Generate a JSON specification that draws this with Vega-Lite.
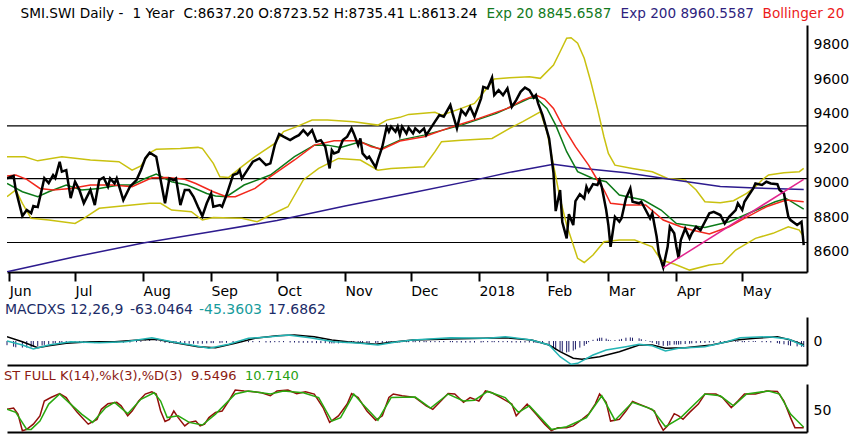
{
  "$schema": "https://vega.github.io/schema/vega-lite/v6.json",
  "background": "white",
  "padding": {"left": 6, "top": 7, "right": 2, "bottom": 8},
  "spacing": 4,
  "config": {
    "font": "DejaVu Sans",
    "view": {"stroke": null},
    "axis": {"grid": false, "domainColor": "#000", "domainWidth": 2, "labelColor": "#000", "labelFontSize": 14, "labelFont": "DejaVu Sans", "title": null},
    "legend": {"labelFont": "DejaVu Sans", "labelFontSize": 14, "labelLimit": 0, "padding": 0, "symbolSize": 0.01, "symbolType": "square", "symbolStrokeWidth": 0, "symbolOpacity": 0, "labelOffset": -16, "columnPadding": 5, "gridAlign": "none", "title": null}
  },
  "resolve": {"scale": {"color": "independent", "x": "independent", "y": "independent"}, "legend": {"color": "independent"}},
  "datasets": {
    "levels": [{"v": 9328}, {"v": 9023}, {"v": 8797}, {"v": 8653}],
    "trend": [{"d": "2018-03-26", "v": 8508}, {"d": "2018-05-29", "v": 9019}],
    "px": [
      {"d":"2017-05-31","v":9024,"h":-70},{"d":"2017-06-03","v":9038,"h":-95},{"d":"2017-06-04","v":8957,"h":-105},{"d":"2017-06-07","v":8806,"h":-110},
      {"d":"2017-06-09","v":8841,"h":-110},{"d":"2017-06-11","v":8823,"h":-105},{"d":"2017-06-12","v":8864,"h":-100},{"d":"2017-06-14","v":8858,"h":-90},
      {"d":"2017-06-16","v":8968,"h":-75},{"d":"2017-06-17","v":9026,"h":-65},{"d":"2017-06-19","v":8997,"h":-55},{"d":"2017-06-21","v":9044,"h":-45},
      {"d":"2017-06-22","v":9026,"h":-40},{"d":"2017-06-24","v":9121,"h":-35},{"d":"2017-06-25","v":9063,"h":-30},{"d":"2017-06-27","v":9072,"h":-30},
      {"d":"2017-06-29","v":8910,"h":-30},{"d":"2017-07-01","v":9005,"h":-30},{"d":"2017-07-03","v":8957,"h":-30},{"d":"2017-07-05","v":8881,"h":-35},
      {"d":"2017-07-08","v":8957,"h":-30},{"d":"2017-07-10","v":8870,"h":-35},{"d":"2017-07-12","v":9015,"h":-30},{"d":"2017-07-14","v":9030,"h":-25},
      {"d":"2017-07-16","v":8976,"h":-25},{"d":"2017-07-17","v":9024,"h":-25},{"d":"2017-07-19","v":8995,"h":-25},{"d":"2017-07-20","v":9024,"h":-25},
      {"d":"2017-07-23","v":8899,"h":-30},{"d":"2017-07-26","v":8976,"h":-25},{"d":"2017-07-29","v":9015,"h":-20},{"d":"2017-07-31","v":9072,"h":-15},
      {"d":"2017-08-02","v":9140,"h":10},{"d":"2017-08-04","v":9173,"h":20},{"d":"2017-08-07","v":9150,"h":15},{"d":"2017-08-09","v":9015,"h":-10},
      {"d":"2017-08-11","v":8880,"h":-30},{"d":"2017-08-13","v":9024,"h":-35},{"d":"2017-08-15","v":9015,"h":-40},{"d":"2017-08-16","v":9024,"h":-40},
      {"d":"2017-08-18","v":8870,"h":-45},{"d":"2017-08-20","v":8957,"h":-45},{"d":"2017-08-22","v":8957,"h":-45},{"d":"2017-08-24","v":8918,"h":-45},
      {"d":"2017-08-26","v":8860,"h":-45},{"d":"2017-08-28","v":8806,"h":-45},{"d":"2017-08-30","v":8880,"h":-40},{"d":"2017-09-01","v":8937,"h":-35},
      {"d":"2017-09-02","v":8860,"h":-35},{"d":"2017-09-05","v":8870,"h":-35},{"d":"2017-09-06","v":8860,"h":-30},{"d":"2017-09-08","v":8928,"h":-30},
      {"d":"2017-09-11","v":9044,"h":-25},{"d":"2017-09-13","v":9053,"h":-25},{"d":"2017-09-14","v":9072,"h":-20},{"d":"2017-09-15","v":9024,"h":-20},
      {"d":"2017-09-18","v":9082,"h":-20},{"d":"2017-09-20","v":9121,"h":-20},{"d":"2017-09-23","v":9140,"h":-20},{"d":"2017-09-26","v":9101,"h":-25},
      {"d":"2017-09-28","v":9111,"h":-25},{"d":"2017-09-30","v":9217,"h":-20},{"d":"2017-10-02","v":9281,"h":-20},{"d":"2017-10-04","v":9266,"h":-20},
      {"d":"2017-10-07","v":9246,"h":-25},{"d":"2017-10-09","v":9262,"h":-25},{"d":"2017-10-11","v":9275,"h":-30},{"d":"2017-10-13","v":9304,"h":-30},
      {"d":"2017-10-15","v":9275,"h":-30},{"d":"2017-10-17","v":9304,"h":-30},{"d":"2017-10-19","v":9237,"h":-35},{"d":"2017-10-21","v":9246,"h":-35},
      {"d":"2017-10-23","v":9208,"h":-35},{"d":"2017-10-25","v":9082,"h":-40},{"d":"2017-10-26","v":9188,"h":-40},{"d":"2017-10-27","v":9169,"h":-40},
      {"d":"2017-10-29","v":9179,"h":-40},{"d":"2017-10-31","v":9246,"h":-35},{"d":"2017-11-02","v":9266,"h":-35},{"d":"2017-11-04","v":9314,"h":-30},
      {"d":"2017-11-05","v":9285,"h":-30},{"d":"2017-11-07","v":9217,"h":-30},{"d":"2017-11-08","v":9256,"h":-30},{"d":"2017-11-09","v":9169,"h":-35},
      {"d":"2017-11-11","v":9140,"h":-35},{"d":"2017-11-12","v":9150,"h":-35},{"d":"2017-11-15","v":9088,"h":-35},{"d":"2017-11-16","v":9131,"h":-30},
      {"d":"2017-11-18","v":9208,"h":-30},{"d":"2017-11-20","v":9324,"h":-25},{"d":"2017-11-21","v":9295,"h":-25},{"d":"2017-11-22","v":9324,"h":-25},
      {"d":"2017-11-24","v":9295,"h":-25},{"d":"2017-11-25","v":9324,"h":-25},{"d":"2017-11-26","v":9275,"h":-25},{"d":"2017-11-27","v":9324,"h":-20},
      {"d":"2017-11-29","v":9285,"h":-20},{"d":"2017-11-30","v":9318,"h":-20},{"d":"2017-12-02","v":9285,"h":-20},{"d":"2017-12-03","v":9314,"h":-20},
      {"d":"2017-12-05","v":9291,"h":-20},{"d":"2017-12-07","v":9314,"h":-20},{"d":"2017-12-08","v":9275,"h":-20},{"d":"2017-12-10","v":9314,"h":-20},
      {"d":"2017-12-12","v":9353,"h":-20},{"d":"2017-12-14","v":9391,"h":-20},{"d":"2017-12-16","v":9382,"h":-20},{"d":"2017-12-19","v":9449,"h":-20},
      {"d":"2017-12-20","v":9401,"h":-20},{"d":"2017-12-22","v":9314,"h":-25},{"d":"2017-12-24","v":9420,"h":-25},{"d":"2017-12-26","v":9391,"h":-25},
      {"d":"2017-12-28","v":9439,"h":-25},{"d":"2017-12-30","v":9382,"h":-25},{"d":"2018-01-02","v":9488,"h":-25},{"d":"2018-01-03","v":9555,"h":-20},
      {"d":"2018-01-05","v":9546,"h":-20},{"d":"2018-01-07","v":9608,"h":-20},{"d":"2018-01-08","v":9507,"h":-20},{"d":"2018-01-10","v":9536,"h":-20},
      {"d":"2018-01-12","v":9507,"h":-20},{"d":"2018-01-14","v":9546,"h":-20},{"d":"2018-01-16","v":9439,"h":-25},{"d":"2018-01-18","v":9478,"h":-25},
      {"d":"2018-01-20","v":9526,"h":-25},{"d":"2018-01-22","v":9550,"h":-25},{"d":"2018-01-24","v":9536,"h":-25},{"d":"2018-01-26","v":9492,"h":-30},
      {"d":"2018-01-27","v":9507,"h":-30},{"d":"2018-01-28","v":9459,"h":-35},{"d":"2018-01-30","v":9391,"h":-45},{"d":"2018-02-02","v":9256,"h":-80},
      {"d":"2018-02-04","v":9055,"h":-110},{"d":"2018-02-05","v":8835,"h":-140},{"d":"2018-02-07","v":8957,"h":-170},{"d":"2018-02-08","v":8771,"h":-180},
      {"d":"2018-02-10","v":8677,"h":-190},{"d":"2018-02-11","v":8817,"h":-180},{"d":"2018-02-13","v":8754,"h":-160},{"d":"2018-02-14","v":8893,"h":-140},
      {"d":"2018-02-16","v":8933,"h":-110},{"d":"2018-02-18","v":8908,"h":-80},{"d":"2018-02-19","v":8976,"h":-50},{"d":"2018-02-20","v":8947,"h":-20},
      {"d":"2018-02-22","v":8991,"h":20},{"d":"2018-02-24","v":8986,"h":40},{"d":"2018-02-25","v":9015,"h":55},{"d":"2018-02-26","v":8974,"h":55},
      {"d":"2018-02-28","v":8841,"h":40},{"d":"2018-03-01","v":8754,"h":20},{"d":"2018-03-02","v":8628,"h":10},{"d":"2018-03-04","v":8802,"h":15},
      {"d":"2018-03-06","v":8773,"h":25},{"d":"2018-03-07","v":8793,"h":35},{"d":"2018-03-09","v":8908,"h":55},{"d":"2018-03-11","v":8966,"h":60},
      {"d":"2018-03-12","v":8889,"h":55},{"d":"2018-03-15","v":8880,"h":45},{"d":"2018-03-16","v":8889,"h":30},{"d":"2018-03-18","v":8841,"h":10},
      {"d":"2018-03-20","v":8793,"h":-15},{"d":"2018-03-21","v":8822,"h":-30},{"d":"2018-03-23","v":8686,"h":-50},{"d":"2018-03-24","v":8590,"h":-70},
      {"d":"2018-03-26","v":8508,"h":-80},{"d":"2018-03-28","v":8628,"h":-80},{"d":"2018-03-29","v":8744,"h":-70},{"d":"2018-03-31","v":8706,"h":-60},
      {"d":"2018-04-01","v":8628,"h":-60},{"d":"2018-04-02","v":8562,"h":-60},{"d":"2018-04-03","v":8667,"h":-55},{"d":"2018-04-05","v":8734,"h":-50},
      {"d":"2018-04-07","v":8677,"h":-45},{"d":"2018-04-08","v":8706,"h":-40},{"d":"2018-04-10","v":8744,"h":-35},{"d":"2018-04-12","v":8725,"h":-30},
      {"d":"2018-04-14","v":8773,"h":-30},{"d":"2018-04-16","v":8822,"h":-25},{"d":"2018-04-18","v":8831,"h":-25},{"d":"2018-04-21","v":8812,"h":-20},
      {"d":"2018-04-23","v":8763,"h":-20},{"d":"2018-04-25","v":8802,"h":-15},{"d":"2018-04-28","v":8841,"h":-15},{"d":"2018-04-29","v":8880,"h":-15},
      {"d":"2018-05-01","v":8841,"h":-20},{"d":"2018-05-02","v":8889,"h":-20},{"d":"2018-05-04","v":8928,"h":-15},{"d":"2018-05-06","v":8966,"h":-15},
      {"d":"2018-05-07","v":8995,"h":-15},{"d":"2018-05-10","v":8986,"h":-20},{"d":"2018-05-12","v":9005,"h":-20},{"d":"2018-05-14","v":8995,"h":-25},
      {"d":"2018-05-17","v":8991,"h":-35},{"d":"2018-05-18","v":8957,"h":-45},{"d":"2018-05-20","v":8937,"h":-55},{"d":"2018-05-22","v":8802,"h":-70},
      {"d":"2018-05-23","v":8783,"h":-80},{"d":"2018-05-26","v":8754,"h":-90},{"d":"2018-05-28","v":8773,"h":-95},{"d":"2018-05-29","v":8638,"h":-100}
    ],
    "ind": [
      {"d":"2017-05-31","s":"ema200","v":8483},{"d":"2017-07-01","s":"ema200","v":8570},{"d":"2017-08-01","s":"ema200","v":8650},{"d":"2017-09-01","s":"ema200","v":8715},
      {"d":"2017-10-01","s":"ema200","v":8780},{"d":"2017-11-01","s":"ema200","v":8865},{"d":"2017-12-01","s":"ema200","v":8940},{"d":"2018-01-01","s":"ema200","v":9020},
      {"d":"2018-01-16","s":"ema200","v":9062},{"d":"2018-02-04","s":"ema200","v":9106},{"d":"2018-02-19","s":"ema200","v":9080},{"d":"2018-03-09","s":"ema200","v":9057},
      {"d":"2018-03-29","s":"ema200","v":9020},{"d":"2018-04-21","s":"ema200","v":8978},{"d":"2018-05-07","s":"ema200","v":8968},{"d":"2018-05-29","s":"ema200","v":8960},

      {"d":"2017-05-31","s":"ema20","v":8995},{"d":"2017-06-07","s":"ema20","v":8947},{"d":"2017-06-14","s":"ema20","v":8918},{"d":"2017-06-19","s":"ema20","v":8947},
      {"d":"2017-06-27","s":"ema20","v":8986},{"d":"2017-07-04","s":"ema20","v":8957},{"d":"2017-07-12","s":"ema20","v":8966},{"d":"2017-07-21","s":"ema20","v":8986},
      {"d":"2017-07-27","s":"ema20","v":8986},{"d":"2017-08-02","s":"ema20","v":9024},{"d":"2017-08-07","s":"ema20","v":9049},{"d":"2017-08-14","s":"ema20","v":9005},
      {"d":"2017-08-21","s":"ema20","v":8986},{"d":"2017-08-30","s":"ema20","v":8937},{"d":"2017-09-03","s":"ema20","v":8922},{"d":"2017-09-08","s":"ema20","v":8918},
      {"d":"2017-09-16","s":"ema20","v":8986},{"d":"2017-09-28","s":"ema20","v":9044},{"d":"2017-10-09","s":"ema20","v":9150},{"d":"2017-10-18","s":"ema20","v":9217},
      {"d":"2017-10-24","s":"ema20","v":9217},{"d":"2017-10-30","s":"ema20","v":9204},{"d":"2017-11-08","s":"ema20","v":9237},{"d":"2017-11-17","s":"ema20","v":9193},
      {"d":"2017-11-26","s":"ema20","v":9246},{"d":"2017-12-07","s":"ema20","v":9275},{"d":"2017-12-24","s":"ema20","v":9333},{"d":"2018-01-09","s":"ema20","v":9401},
      {"d":"2018-01-24","s":"ema20","v":9488},{"d":"2018-01-27","s":"ema20","v":9492},{"d":"2018-02-01","s":"ema20","v":9430},{"d":"2018-02-05","s":"ema20","v":9333},
      {"d":"2018-02-10","s":"ema20","v":9179},{"d":"2018-02-15","s":"ema20","v":9063},{"d":"2018-02-22","s":"ema20","v":9024},{"d":"2018-02-28","s":"ema20","v":9005},
      {"d":"2018-03-06","s":"ema20","v":8928},{"d":"2018-03-17","s":"ema20","v":8899},{"d":"2018-03-25","s":"ema20","v":8841},{"d":"2018-04-01","s":"ema20","v":8763},
      {"d":"2018-04-14","s":"ema20","v":8740},{"d":"2018-04-25","s":"ema20","v":8773},{"d":"2018-05-04","s":"ema20","v":8822},{"d":"2018-05-16","s":"ema20","v":8889},
      {"d":"2018-05-21","s":"ema20","v":8908},{"d":"2018-05-29","s":"ema20","v":8846},

      {"d":"2017-05-31","s":"bb","v":9038},{"d":"2017-06-04","s":"bb","v":9044},{"d":"2017-06-09","s":"bb","v":9019},{"d":"2017-06-15","s":"bb","v":8966},
      {"d":"2017-06-21","s":"bb","v":8957},{"d":"2017-06-29","s":"bb","v":8966},{"d":"2017-07-08","s":"bb","v":8986},{"d":"2017-07-18","s":"bb","v":8986},
      {"d":"2017-07-27","s":"bb","v":8976},{"d":"2017-08-05","s":"bb","v":9028},{"d":"2017-08-12","s":"bb","v":9030},{"d":"2017-08-20","s":"bb","v":9019},
      {"d":"2017-08-25","s":"bb","v":8995},{"d":"2017-09-02","s":"bb","v":8947},{"d":"2017-09-08","s":"bb","v":8918},{"d":"2017-09-12","s":"bb","v":8918},
      {"d":"2017-09-21","s":"bb","v":8966},{"d":"2017-09-28","s":"bb","v":9034},{"d":"2017-10-09","s":"bb","v":9131},{"d":"2017-10-18","s":"bb","v":9217},
      {"d":"2017-10-27","s":"bb","v":9242},{"d":"2017-11-07","s":"bb","v":9242},{"d":"2017-11-13","s":"bb","v":9208},{"d":"2017-11-18","s":"bb","v":9193},
      {"d":"2017-11-26","s":"bb","v":9241},{"d":"2017-12-07","s":"bb","v":9266},{"d":"2017-12-20","s":"bb","v":9324},{"d":"2018-01-01","s":"bb","v":9372},
      {"d":"2018-01-14","s":"bb","v":9430},{"d":"2018-01-21","s":"bb","v":9478},{"d":"2018-01-27","s":"bb","v":9507},{"d":"2018-01-31","s":"bb","v":9484},
      {"d":"2018-02-04","s":"bb","v":9430},{"d":"2018-02-08","s":"bb","v":9333},{"d":"2018-02-14","s":"bb","v":9208},{"d":"2018-02-20","s":"bb","v":9101},
      {"d":"2018-02-24","s":"bb","v":9015},{"d":"2018-02-27","s":"bb","v":8957},{"d":"2018-03-02","s":"bb","v":8880},{"d":"2018-03-09","s":"bb","v":8870},
      {"d":"2018-03-18","s":"bb","v":8870},{"d":"2018-03-26","s":"bb","v":8783},{"d":"2018-04-03","s":"bb","v":8744},{"d":"2018-04-08","s":"bb","v":8725},
      {"d":"2018-04-16","s":"bb","v":8702},{"d":"2018-04-25","s":"bb","v":8744},{"d":"2018-05-02","s":"bb","v":8793},{"d":"2018-05-12","s":"bb","v":8860},
      {"d":"2018-05-21","s":"bb","v":8899},{"d":"2018-05-29","s":"bb","v":8889},

      {"d":"2017-05-31","s":"bu","v":9150},{"d":"2017-06-08","s":"bu","v":9150},{"d":"2017-06-14","s":"bu","v":9126},{"d":"2017-06-25","s":"bu","v":9150},
      {"d":"2017-07-08","s":"bu","v":9131},{"d":"2017-07-21","s":"bu","v":9121},{"d":"2017-07-27","s":"bu","v":9072},{"d":"2017-07-31","s":"bu","v":9096},
      {"d":"2017-08-04","s":"bu","v":9173},{"d":"2017-08-07","s":"bu","v":9193},{"d":"2017-08-18","s":"bu","v":9198},{"d":"2017-08-26","s":"bu","v":9204},
      {"d":"2017-08-28","s":"bu","v":9198},{"d":"2017-09-02","s":"bu","v":9111},{"d":"2017-09-05","s":"bu","v":9034},{"d":"2017-09-09","s":"bu","v":9030},
      {"d":"2017-09-15","s":"bu","v":9092},{"d":"2017-09-21","s":"bu","v":9150},{"d":"2017-09-30","s":"bu","v":9227},{"d":"2017-10-04","s":"bu","v":9295},
      {"d":"2017-10-10","s":"bu","v":9324},{"d":"2017-10-17","s":"bu","v":9362},{"d":"2017-10-24","s":"bu","v":9362},{"d":"2017-11-05","s":"bu","v":9353},
      {"d":"2017-11-16","s":"bu","v":9333},{"d":"2017-11-20","s":"bu","v":9362},{"d":"2017-11-26","s":"bu","v":9378},{"d":"2017-11-30","s":"bu","v":9395},
      {"d":"2017-12-12","s":"bu","v":9407},{"d":"2017-12-15","s":"bu","v":9391},{"d":"2017-12-24","s":"bu","v":9430},{"d":"2017-12-30","s":"bu","v":9459},
      {"d":"2018-01-04","s":"bu","v":9536},{"d":"2018-01-08","s":"bu","v":9600},{"d":"2018-01-15","s":"bu","v":9608},{"d":"2018-01-24","s":"bu","v":9613},
      {"d":"2018-01-29","s":"bu","v":9604},{"d":"2018-02-04","s":"bu","v":9681},{"d":"2018-02-07","s":"bu","v":9758},{"d":"2018-02-10","s":"bu","v":9836},
      {"d":"2018-02-12","s":"bu","v":9839},{"d":"2018-02-15","s":"bu","v":9807},{"d":"2018-02-18","s":"bu","v":9720},{"d":"2018-02-21","s":"bu","v":9584},
      {"d":"2018-02-24","s":"bu","v":9430},{"d":"2018-02-27","s":"bu","v":9264},{"d":"2018-03-01","s":"bu","v":9169},{"d":"2018-03-04","s":"bu","v":9101},
      {"d":"2018-03-12","s":"bu","v":9082},{"d":"2018-03-21","s":"bu","v":9063},{"d":"2018-03-28","s":"bu","v":9024},{"d":"2018-04-05","s":"bu","v":9015},
      {"d":"2018-04-10","s":"bu","v":8957},{"d":"2018-04-14","s":"bu","v":8889},{"d":"2018-04-21","s":"bu","v":8883},{"d":"2018-04-27","s":"bu","v":8895},
      {"d":"2018-05-03","s":"bu","v":8937},{"d":"2018-05-07","s":"bu","v":8976},{"d":"2018-05-10","s":"bu","v":9015},{"d":"2018-05-13","s":"bu","v":9044},
      {"d":"2018-05-20","s":"bu","v":9057},{"d":"2018-05-27","s":"bu","v":9063},{"d":"2018-05-29","s":"bu","v":9082},

      {"d":"2017-05-31","s":"bl","v":8918},{"d":"2017-06-04","s":"bl","v":8957},{"d":"2017-06-07","s":"bl","v":8880},{"d":"2017-06-11","s":"bl","v":8793},
      {"d":"2017-06-19","s":"bl","v":8783},{"d":"2017-07-01","s":"bl","v":8763},{"d":"2017-07-05","s":"bl","v":8793},{"d":"2017-07-12","s":"bl","v":8851},
      {"d":"2017-08-04","s":"bl","v":8880},{"d":"2017-08-09","s":"bl","v":8880},{"d":"2017-08-14","s":"bl","v":8841},{"d":"2017-08-23","s":"bl","v":8831},
      {"d":"2017-08-28","s":"bl","v":8783},{"d":"2017-09-02","s":"bl","v":8798},{"d":"2017-09-15","s":"bl","v":8793},{"d":"2017-09-22","s":"bl","v":8773},
      {"d":"2017-09-28","s":"bl","v":8812},{"d":"2017-10-06","s":"bl","v":8860},{"d":"2017-10-13","s":"bl","v":9015},{"d":"2017-10-20","s":"bl","v":9082},
      {"d":"2017-10-29","s":"bl","v":9140},{"d":"2017-11-08","s":"bl","v":9131},{"d":"2017-11-16","s":"bl","v":9072},{"d":"2017-11-22","s":"bl","v":9082},
      {"d":"2017-12-07","s":"bl","v":9092},{"d":"2017-12-12","s":"bl","v":9179},{"d":"2017-12-15","s":"bl","v":9237},{"d":"2017-12-24","s":"bl","v":9246},
      {"d":"2018-01-07","s":"bl","v":9256},{"d":"2018-01-15","s":"bl","v":9314},{"d":"2018-01-21","s":"bl","v":9353},{"d":"2018-01-29","s":"bl","v":9410},
      {"d":"2018-02-01","s":"bl","v":9295},{"d":"2018-02-04","s":"bl","v":9101},{"d":"2018-02-07","s":"bl","v":8908},{"d":"2018-02-10","s":"bl","v":8754},
      {"d":"2018-02-13","s":"bl","v":8638},{"d":"2018-02-15","s":"bl","v":8561},{"d":"2018-02-18","s":"bl","v":8537},{"d":"2018-02-22","s":"bl","v":8580},
      {"d":"2018-02-27","s":"bl","v":8657},{"d":"2018-03-06","s":"bl","v":8667},{"d":"2018-03-13","s":"bl","v":8667},{"d":"2018-03-21","s":"bl","v":8628},
      {"d":"2018-03-25","s":"bl","v":8551},{"d":"2018-03-31","s":"bl","v":8528},{"d":"2018-04-07","s":"bl","v":8493},{"d":"2018-04-16","s":"bl","v":8522},
      {"d":"2018-04-22","s":"bl","v":8532},{"d":"2018-04-28","s":"bl","v":8609},{"d":"2018-05-07","s":"bl","v":8677},{"d":"2018-05-15","s":"bl","v":8706},
      {"d":"2018-05-22","s":"bl","v":8744},{"d":"2018-05-27","s":"bl","v":8725},{"d":"2018-05-29","s":"bl","v":8686}
    ],
    "macd": [
      {"d":"2017-05-31","s":"macd","v":72},{"d":"2017-06-07","s":"macd","v":-12},{"d":"2017-06-14","s":"macd","v":-112},{"d":"2017-06-19","s":"macd","v":-78},
      {"d":"2017-06-27","s":"macd","v":-38},{"d":"2017-07-08","s":"macd","v":-12},{"d":"2017-07-19","s":"macd","v":-12},{"d":"2017-07-30","s":"macd","v":17},
      {"d":"2017-08-07","s":"macd","v":28},{"d":"2017-08-17","s":"macd","v":-38},{"d":"2017-08-26","s":"macd","v":-95},{"d":"2017-09-03","s":"macd","v":-112},
      {"d":"2017-09-12","s":"macd","v":-38},{"d":"2017-09-21","s":"macd","v":45},{"d":"2017-10-01","s":"macd","v":88},{"d":"2017-10-09","s":"macd","v":100},
      {"d":"2017-10-18","s":"macd","v":72},{"d":"2017-10-26","s":"macd","v":17},{"d":"2017-11-02","s":"macd","v":-12},{"d":"2017-11-15","s":"macd","v":-55},
      {"d":"2017-11-22","s":"macd","v":-22},{"d":"2017-12-02","s":"macd","v":17},{"d":"2017-12-19","s":"macd","v":33},{"d":"2018-01-13","s":"macd","v":55},
      {"d":"2018-01-25","s":"macd","v":17},{"d":"2018-02-02","s":"macd","v":-67},{"d":"2018-02-07","s":"macd","v":-178},{"d":"2018-02-13","s":"macd","v":-288},
      {"d":"2018-02-17","s":"macd","v":-305},{"d":"2018-02-25","s":"macd","v":-262},{"d":"2018-03-06","s":"macd","v":-178},{"d":"2018-03-15","s":"macd","v":-67},
      {"d":"2018-03-21","s":"macd","v":-67},{"d":"2018-03-27","s":"macd","v":-122},{"d":"2018-04-05","s":"macd","v":-112},{"d":"2018-04-17","s":"macd","v":-67},
      {"d":"2018-04-28","s":"macd","v":17},{"d":"2018-05-07","s":"macd","v":45},{"d":"2018-05-17","s":"macd","v":72},{"d":"2018-05-23","s":"macd","v":17},
      {"d":"2018-05-29","s":"macd","v":-63},

      {"d":"2017-05-31","s":"signal","v":0},{"d":"2017-06-07","s":"signal","v":-67},{"d":"2017-06-12","s":"signal","v":-133},{"d":"2017-06-19","s":"signal","v":-67},
      {"d":"2017-06-29","s":"signal","v":-12},{"d":"2017-07-12","s":"signal","v":-28},{"d":"2017-07-24","s":"signal","v":-12},{"d":"2017-08-05","s":"signal","v":55},
      {"d":"2017-08-14","s":"signal","v":-12},{"d":"2017-08-23","s":"signal","v":-67},{"d":"2017-08-31","s":"signal","v":-122},{"d":"2017-09-09","s":"signal","v":-55},
      {"d":"2017-09-18","s":"signal","v":45},{"d":"2017-09-28","s":"signal","v":72},{"d":"2017-10-06","s":"signal","v":100},{"d":"2017-10-16","s":"signal","v":55},
      {"d":"2017-10-27","s":"signal","v":-12},{"d":"2017-11-08","s":"signal","v":-38},{"d":"2017-11-16","s":"signal","v":-67},{"d":"2017-11-25","s":"signal","v":-12},
      {"d":"2017-12-02","s":"signal","v":17},{"d":"2017-12-19","s":"signal","v":55},{"d":"2018-01-05","s":"signal","v":45},{"d":"2018-01-13","s":"signal","v":72},
      {"d":"2018-01-25","s":"signal","v":17},{"d":"2018-02-02","s":"signal","v":-67},{"d":"2018-02-07","s":"signal","v":-262},{"d":"2018-02-12","s":"signal","v":-388},
      {"d":"2018-02-15","s":"signal","v":-372},{"d":"2018-02-22","s":"signal","v":-233},{"d":"2018-02-28","s":"signal","v":-150},{"d":"2018-03-09","s":"signal","v":-95},
      {"d":"2018-03-15","s":"signal","v":-55},{"d":"2018-03-21","s":"signal","v":-78},{"d":"2018-03-27","s":"signal","v":-167},{"d":"2018-04-02","s":"signal","v":-122},
      {"d":"2018-04-14","s":"signal","v":-95},{"d":"2018-04-24","s":"signal","v":-12},{"d":"2018-04-30","s":"signal","v":55},{"d":"2018-05-13","s":"signal","v":72},
      {"d":"2018-05-22","s":"signal","v":33},{"d":"2018-05-29","s":"signal","v":-80}
    ],
    "stoch": [
      {"d":"2017-05-31","s":"k","v":52},{"d":"2017-06-03","s":"k","v":55},{"d":"2017-06-05","s":"k","v":41},{"d":"2017-06-07","s":"k","v":3},
      {"d":"2017-06-09","s":"k","v":6},{"d":"2017-06-12","s":"k","v":18},{"d":"2017-06-15","s":"k","v":37},{"d":"2017-06-17","s":"k","v":71},
      {"d":"2017-06-20","s":"k","v":79},{"d":"2017-06-24","s":"k","v":88},{"d":"2017-06-27","s":"k","v":79},{"d":"2017-06-29","s":"k","v":64},
      {"d":"2017-07-02","s":"k","v":45},{"d":"2017-07-07","s":"k","v":18},{"d":"2017-07-11","s":"k","v":29},{"d":"2017-07-13","s":"k","v":52},
      {"d":"2017-07-16","s":"k","v":65},{"d":"2017-07-20","s":"k","v":68},{"d":"2017-07-22","s":"k","v":60},{"d":"2017-07-25","s":"k","v":37},
      {"d":"2017-07-27","s":"k","v":48},{"d":"2017-07-30","s":"k","v":71},{"d":"2017-08-02","s":"k","v":87},{"d":"2017-08-05","s":"k","v":92},
      {"d":"2017-08-07","s":"k","v":87},{"d":"2017-08-09","s":"k","v":48},{"d":"2017-08-11","s":"k","v":24},{"d":"2017-08-13","s":"k","v":29},
      {"d":"2017-08-15","s":"k","v":48},{"d":"2017-08-17","s":"k","v":33},{"d":"2017-08-20","s":"k","v":14},{"d":"2017-08-22","s":"k","v":22},
      {"d":"2017-08-25","s":"k","v":25},{"d":"2017-08-27","s":"k","v":14},{"d":"2017-08-29","s":"k","v":18},{"d":"2017-08-31","s":"k","v":33},
      {"d":"2017-09-03","s":"k","v":45},{"d":"2017-09-06","s":"k","v":48},{"d":"2017-09-09","s":"k","v":71},{"d":"2017-09-12","s":"k","v":96},
      {"d":"2017-09-16","s":"k","v":94},{"d":"2017-09-19","s":"k","v":93},{"d":"2017-09-24","s":"k","v":90},{"d":"2017-09-28","s":"k","v":83},
      {"d":"2017-10-01","s":"k","v":94},{"d":"2017-10-06","s":"k","v":96},{"d":"2017-10-10","s":"k","v":88},{"d":"2017-10-14","s":"k","v":92},
      {"d":"2017-10-18","s":"k","v":87},{"d":"2017-10-22","s":"k","v":56},{"d":"2017-10-25","s":"k","v":22},{"d":"2017-10-29","s":"k","v":37},
      {"d":"2017-11-02","s":"k","v":64},{"d":"2017-11-04","s":"k","v":88},{"d":"2017-11-07","s":"k","v":79},{"d":"2017-11-11","s":"k","v":48},
      {"d":"2017-11-15","s":"k","v":27},{"d":"2017-11-18","s":"k","v":37},{"d":"2017-11-21","s":"k","v":79},{"d":"2017-11-23","s":"k","v":87},
      {"d":"2017-11-27","s":"k","v":83},{"d":"2017-12-03","s":"k","v":79},{"d":"2017-12-08","s":"k","v":60},{"d":"2017-12-11","s":"k","v":52},
      {"d":"2017-12-18","s":"k","v":88},{"d":"2017-12-21","s":"k","v":87},{"d":"2017-12-25","s":"k","v":68},{"d":"2017-12-28","s":"k","v":79},
      {"d":"2018-01-01","s":"k","v":71},{"d":"2018-01-04","s":"k","v":94},{"d":"2018-01-07","s":"k","v":90},{"d":"2018-01-11","s":"k","v":79},
      {"d":"2018-01-16","s":"k","v":64},{"d":"2018-01-18","s":"k","v":37},{"d":"2018-01-23","s":"k","v":64},{"d":"2018-01-27","s":"k","v":41},
      {"d":"2018-01-31","s":"k","v":18},{"d":"2018-02-03","s":"k","v":3},{"d":"2018-02-06","s":"k","v":10},{"d":"2018-02-10","s":"k","v":10},
      {"d":"2018-02-13","s":"k","v":14},{"d":"2018-02-17","s":"k","v":29},{"d":"2018-02-20","s":"k","v":41},{"d":"2018-02-23","s":"k","v":64},
      {"d":"2018-02-25","s":"k","v":87},{"d":"2018-02-28","s":"k","v":68},{"d":"2018-03-02","s":"k","v":25},{"d":"2018-03-06","s":"k","v":29},
      {"d":"2018-03-09","s":"k","v":48},{"d":"2018-03-12","s":"k","v":70},{"d":"2018-03-15","s":"k","v":64},{"d":"2018-03-19","s":"k","v":56},
      {"d":"2018-03-22","s":"k","v":48},{"d":"2018-03-24","s":"k","v":22},{"d":"2018-03-26","s":"k","v":4},{"d":"2018-03-28","s":"k","v":14},
      {"d":"2018-03-31","s":"k","v":42},{"d":"2018-04-02","s":"k","v":37},{"d":"2018-04-04","s":"k","v":29},{"d":"2018-04-07","s":"k","v":45},
      {"d":"2018-04-11","s":"k","v":64},{"d":"2018-04-14","s":"k","v":87},{"d":"2018-04-19","s":"k","v":87},{"d":"2018-04-22","s":"k","v":79},
      {"d":"2018-04-26","s":"k","v":56},{"d":"2018-04-29","s":"k","v":71},{"d":"2018-05-02","s":"k","v":87},{"d":"2018-05-07","s":"k","v":87},
      {"d":"2018-05-12","s":"k","v":94},{"d":"2018-05-17","s":"k","v":93},{"d":"2018-05-20","s":"k","v":71},{"d":"2018-05-23","s":"k","v":33},
      {"d":"2018-05-25","s":"k","v":10},{"d":"2018-05-28","s":"k","v":10},{"d":"2018-05-29","s":"k","v":9.5},

      {"d":"2017-05-31","s":"d","v":52},{"d":"2017-06-04","s":"d","v":45},{"d":"2017-06-09","s":"d","v":6},{"d":"2017-06-11","s":"d","v":6},
      {"d":"2017-06-15","s":"d","v":25},{"d":"2017-06-19","s":"d","v":64},{"d":"2017-06-24","s":"d","v":87},{"d":"2017-06-29","s":"d","v":64},
      {"d":"2017-07-04","s":"d","v":41},{"d":"2017-07-09","s":"d","v":22},{"d":"2017-07-15","s":"d","v":56},{"d":"2017-07-19","s":"d","v":68},
      {"d":"2017-07-25","s":"d","v":42},{"d":"2017-07-31","s":"d","v":75},{"d":"2017-08-06","s":"d","v":90},{"d":"2017-08-09","s":"d","v":71},
      {"d":"2017-08-12","s":"d","v":33},{"d":"2017-08-17","s":"d","v":37},{"d":"2017-08-22","s":"d","v":22},{"d":"2017-08-28","s":"d","v":16},
      {"d":"2017-09-03","s":"d","v":41},{"d":"2017-09-12","s":"d","v":87},{"d":"2017-09-18","s":"d","v":94},{"d":"2017-09-28","s":"d","v":87},
      {"d":"2017-10-04","s":"d","v":94},{"d":"2017-10-13","s":"d","v":90},{"d":"2017-10-20","s":"d","v":79},{"d":"2017-10-26","s":"d","v":25},
      {"d":"2017-10-30","s":"d","v":33},{"d":"2017-11-05","s":"d","v":87},{"d":"2017-11-09","s":"d","v":64},{"d":"2017-11-16","s":"d","v":27},
      {"d":"2017-11-22","s":"d","v":79},{"d":"2017-12-03","s":"d","v":80},{"d":"2017-12-10","s":"d","v":55},{"d":"2017-12-18","s":"d","v":87},
      {"d":"2017-12-25","s":"d","v":71},{"d":"2017-12-30","s":"d","v":73},{"d":"2018-01-05","s":"d","v":93},{"d":"2018-01-13","s":"d","v":79},
      {"d":"2018-01-19","s":"d","v":45},{"d":"2018-01-24","s":"d","v":60},{"d":"2018-02-03","s":"d","v":6},{"d":"2018-02-10","s":"d","v":12},
      {"d":"2018-02-19","s":"d","v":33},{"d":"2018-02-26","s":"d","v":83},{"d":"2018-03-04","s":"d","v":27},{"d":"2018-03-12","s":"d","v":68},
      {"d":"2018-03-21","s":"d","v":52},{"d":"2018-03-27","s":"d","v":12},{"d":"2018-04-03","s":"d","v":33},{"d":"2018-04-14","s":"d","v":87},
      {"d":"2018-04-21","s":"d","v":83},{"d":"2018-04-27","s":"d","v":60},{"d":"2018-05-03","s":"d","v":87},{"d":"2018-05-13","s":"d","v":94},
      {"d":"2018-05-18","s":"d","v":87},{"d":"2018-05-23","s":"d","v":41},{"d":"2018-05-29","s":"d","v":10.7}
    ]
  },
  "vconcat": [
    {
      "width": 800,
      "height": 247,
      "layer": [
        {
          "data": {"name": "levels"},
          "mark": {"type": "rule", "color": "#000000", "strokeWidth": 1.2},
          "encoding": {
            "y": {"field": "v", "type": "quantitative",
                  "scale": {"domain": [8482, 9913], "nice": false, "zero": false},
                  "axis": {"orient": "right", "values": [8600, 8800, 9000, 9200, 9400, 9600, 9800], "format": "d", "ticks": false, "labelPadding": 6, "labelAlign": "left", "labelBaseline": "middle"}}
          }
        },
        {
          "data": {"name": "ind"},
          "transform": [{"filter": "datum.s == 'bu' || datum.s == 'bl'"}],
          "mark": {"type": "line", "color": "#c9c10f", "strokeWidth": 1.5, "clip": true},
          "encoding": {
            "x": {"field": "d", "type": "temporal",
                  "scale": {"type": "utc", "domain": [{"year": 2017, "month": 5, "date": 31, "utc": true}, {"year": 2018, "month": 5, "date": 30, "hours": 12, "utc": true}]},
                  "axis": {"tickCount": "month", "tickSize": 9, "tickWidth": 2, "tickColor": "#000000", "labelAlign": "left", "labelPadding": 3, "labelFlush": false, "labelOverlap": false,
                           "labelExpr": "utcFormat(datum.value, '%m') == '01' ? utcFormat(datum.value, '%Y') : utcFormat(datum.value, '%b')"}},
            "y": {"field": "v", "type": "quantitative", "scale": {"domain": [8482, 9913], "nice": false, "zero": false}},
            "detail": {"field": "s"}
          }
        },
        {
          "data": {"name": "ind"},
          "transform": [{"filter": "datum.s == 'ema200' || datum.s == 'bb' || datum.s == 'ema20'"}],
          "mark": {"type": "line", "strokeWidth": 1.5, "clip": true},
          "encoding": {
            "x": {"field": "d", "type": "temporal",
                  "scale": {"type": "utc", "domain": [{"year": 2017, "month": 5, "date": 31, "utc": true}, {"year": 2018, "month": 5, "date": 30, "hours": 12, "utc": true}]}},
            "y": {"field": "v", "type": "quantitative", "scale": {"domain": [8482, 9913], "nice": false, "zero": false}},
            "color": {"field": "s", "type": "nominal"}
          }
        },
        {
          "data": {"name": "px"},
          "mark": {"type": "line", "strokeWidth": 2.5, "clip": true},
          "encoding": {
            "x": {"field": "d", "type": "temporal",
                  "scale": {"type": "utc", "domain": [{"year": 2017, "month": 5, "date": 31, "utc": true}, {"year": 2018, "month": 5, "date": 30, "hours": 12, "utc": true}]}},
            "y": {"field": "v", "type": "quantitative", "scale": {"domain": [8482, 9913], "nice": false, "zero": false}},
            "color": {"datum": "close", "type": "nominal",
                      "scale": {"domain": ["name", "period", "close", "ema20", "ema200", "bb"], "range": ["#000000", "#000000", "#000000", "#0c7a18", "#2d1b8e", "#f2281c"]},
                      "legend": {"orient": "none", "legendX": 16, "legendY": -18, "direction": "horizontal", "columns": 6, "gridAlign": "none", "symbolSize": 0.01, "columnPadding": 8, "labelOffset": -16, "labelFontSize": 13.6,
                                 "labelExpr": "{'name': 'SMI.SWI Daily -', 'period': '1 Year', 'close': 'C:8637.20 O:8723.52 H:8735.41 L:8613.24', 'ema20': 'Exp 20 8845.6587', 'ema200': 'Exp 200 8960.5587', 'bb': 'Bollinger 20'}[datum.value]",
                                 "encode": {"labels": {"update": {"fill": {"signal": "{'name': '#000000', 'period': '#000000', 'close': '#000000', 'ema20': '#137a1c', 'ema200': '#2e1f7e', 'bb': '#ec1b1b'}[datum.value]"}}}}}}
          }
        },
        {
          "data": {"name": "trend"},
          "mark": {"type": "line", "color": "#e2248e", "strokeWidth": 1.5, "clip": true},
          "encoding": {
            "x": {"field": "d", "type": "temporal",
                  "scale": {"type": "utc", "domain": [{"year": 2017, "month": 5, "date": 31, "utc": true}, {"year": 2018, "month": 5, "date": 30, "hours": 12, "utc": true}]}},
            "y": {"field": "v", "type": "quantitative", "scale": {"domain": [8482, 9913], "nice": false, "zero": false}}
          }
        }
      ]
    },
    {
      "width": 800,
      "height": 48,
      "layer": [
        {
          "data": {"name": "px"},
          "mark": {"type": "rule", "strokeWidth": 1},
          "encoding": {
            "x": {"field": "d", "type": "temporal",
                  "scale": {"type": "utc", "domain": [{"year": 2017, "month": 5, "date": 31, "utc": true}, {"year": 2018, "month": 5, "date": 30, "hours": 12, "utc": true}]},
                  "axis": {"labels": false, "ticks": false, "domainWidth": 2}},
            "y": {"field": "h", "type": "quantitative", "scale": {"domain": [-400, 400], "nice": false, "zero": false},
                  "axis": {"orient": "right", "values": [0], "ticks": false, "labelPadding": 6, "labelAlign": "left", "labelBaseline": "middle"}},
            "y2": {"datum": 0},
            "color": {"datum": "hist", "type": "nominal",
                      "scale": {"domain": ["name", "macd", "signal", "hist"], "range": ["#000000", "#000000", "#24b4b4", "#1c1c68"]},
                      "legend": {"orient": "none", "legendX": 0, "legendY": -14.5, "direction": "horizontal", "columns": 4, "gridAlign": "none", "symbolSize": 0.01, "columnPadding": 6, "labelOffset": -16,
                                 "labelExpr": "{'name': 'MACDXS 12,26,9', 'macd': '-63.0464', 'signal': '-45.3603', 'hist': '17.6862'}[datum.value]",
                                 "encode": {"labels": {"update": {"fill": {"signal": "{'name': '#1b2c68', 'macd': '#1b2c68', 'signal': '#179c9c', 'hist': '#1b2c68'}[datum.value]"}}}}}}
          }
        },
        {
          "mark": {"type": "rule", "color": "#000000", "strokeWidth": 2},
          "encoding": {"y": {"datum": 0, "type": "quantitative", "scale": {"domain": [-400, 400], "nice": false, "zero": false}}}
        },
        {
          "data": {"name": "macd"},
          "mark": {"type": "line", "strokeWidth": 1.5, "clip": true},
          "encoding": {
            "x": {"field": "d", "type": "temporal",
                  "scale": {"type": "utc", "domain": [{"year": 2017, "month": 5, "date": 31, "utc": true}, {"year": 2018, "month": 5, "date": 30, "hours": 12, "utc": true}]}},
            "y": {"field": "v", "type": "quantitative", "scale": {"domain": [-400, 400], "nice": false, "zero": false}},
            "color": {"field": "s", "type": "nominal"}
          }
        }
      ]
    },
    {
      "width": 800,
      "height": 48,
      "data": {"name": "stoch"},
      "mark": {"type": "line", "strokeWidth": 1.5, "clip": true},
      "encoding": {
        "x": {"field": "d", "type": "temporal",
              "scale": {"type": "utc", "domain": [{"year": 2017, "month": 5, "date": 31, "utc": true}, {"year": 2018, "month": 5, "date": 30, "hours": 12, "utc": true}]},
              "axis": {"labels": false, "ticks": false, "domainWidth": 2}},
        "y": {"field": "v", "type": "quantitative", "scale": {"domain": [0, 110], "nice": false, "zero": false},
              "axis": {"orient": "right", "values": [50], "ticks": false, "labelPadding": 6, "labelAlign": "left", "labelBaseline": "middle"}},
        "color": {"field": "s", "type": "nominal",
                  "scale": {"domain": ["name", "k", "d"], "range": ["#920f0a", "#920f0a", "#28a80e"]},
                  "legend": {"orient": "none", "legendX": 0, "legendY": -14.5, "direction": "horizontal", "columns": 3, "gridAlign": "none", "symbolSize": 0.01, "columnPadding": 8, "labelOffset": -16, "labelFontSize": 13,
                             "labelExpr": "{'name': 'ST FULL K(14),%k(3),%D(3)', 'k': '9.5496', 'd': '10.7140'}[datum.value]",
                             "encode": {"labels": {"update": {"fill": {"signal": "{'name': '#8c1a12', 'k': '#8c1a12', 'd': '#27a112'}[datum.value]"}}}}}}
      }
    }
  ]
}
